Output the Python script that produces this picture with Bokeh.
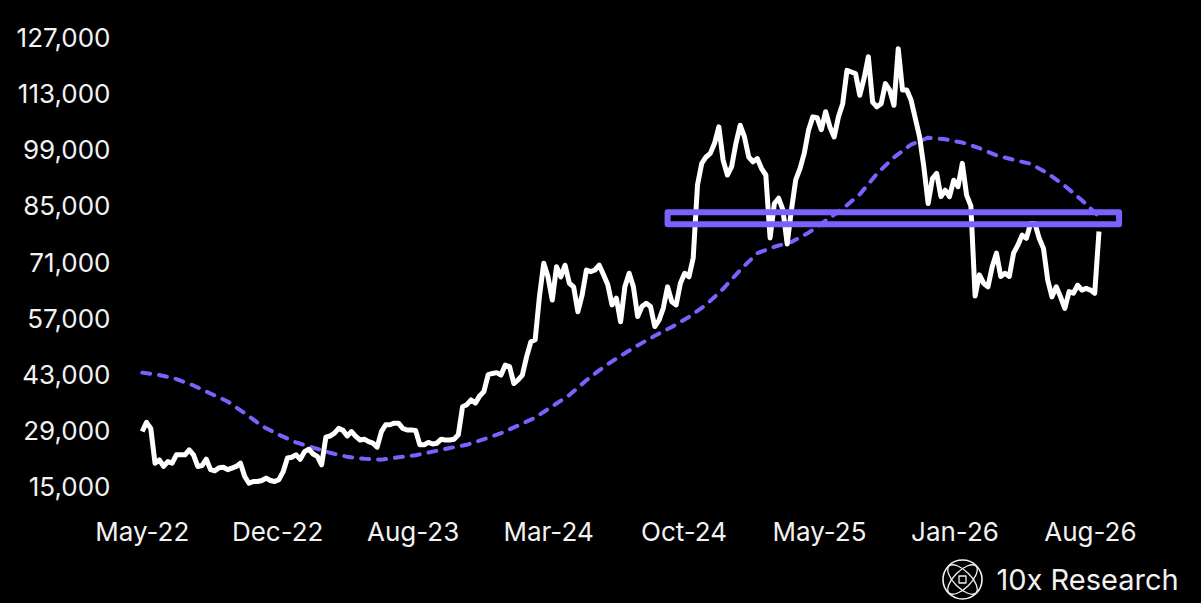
import pandas as pd
from bokeh.plotting import figure
from bokeh.models import Range1d, FixedTicker, NumeralTickFormatter, DatetimeTickFormatter, ColumnDataSource
from bokeh.layouts import column
from bokeh.embed import file_html
from bokeh.resources import INLINE
from bokeh.core.properties import value

# ---------------- data ----------------
start_date = "2022-05-15"

# weekly closes, thousands of USD
price_thousands = [
    28.7, 31.0, 29.5, 20.8, 21.65, 20.0, 21.2, 20.8, 22.9, 22.9,
    22.9, 24.15, 22.9, 20.0, 20.2, 21.8, 19.2, 18.9, 19.7, 19.8,
    19.2, 19.6, 20.0, 20.8, 17.5, 15.8, 16.25, 16.25, 16.5, 17.1,
    16.5, 16.25, 16.7, 18.7, 22.1, 22.3, 22.9, 21.8, 23.7, 24.3,
    23.1, 22.5, 20.4, 27.3, 27.6, 28.3, 29.5, 29.0, 27.6, 28.7,
    27.5, 26.6, 26.8, 26.2, 25.8, 24.8, 28.7, 30.4, 30.4, 30.8,
    30.8, 29.5, 29.1, 29.1, 29.0, 25.4, 25.4, 26.0, 25.6, 25.8,
    26.8, 26.6, 26.6, 26.8, 27.9, 34.9, 35.4, 36.6, 35.8, 37.6,
    38.7, 42.9, 43.2, 43.4, 42.8, 45.3, 44.9, 40.7, 41.6, 42.8,
    47.4, 51.1, 51.6, 62.4, 70.7, 67.3, 61.5, 69.8, 67.3, 70.2,
    65.7, 64.8, 58.6, 62.8, 69.0, 68.6, 69.0, 70.2, 67.8, 65.3,
    60.3, 62.0, 56.1, 64.8, 68.2, 64.8, 57.4, 59.9, 60.7, 59.9,
    54.9, 56.5, 59.5, 64.8, 61.1, 60.3, 65.7, 68.2, 67.3, 72.0,
    90.2, 95.6, 97.2, 98.1, 100.6, 104.7, 96.4, 92.7, 94.8, 100.6,
    105.1, 102.2, 97.2, 96.0, 96.8, 94.3, 92.7, 77.0, 85.6, 86.9,
    84.0, 75.5, 84.0, 91.5, 94.3, 98.1, 103.9, 107.2, 107.0, 104.0,
    108.5, 104.7, 102.2, 107.2, 110.5, 118.8, 118.4, 118.0, 112.6, 116.8,
    122.2, 110.9, 109.7, 110.5, 115.5, 113.9, 110.1, 124.2, 113.9, 113.9,
    111.4, 106.8, 102.2, 94.7, 85.6, 91.8, 93.1, 87.3, 88.9, 87.3,
    91.4, 89.8, 95.6, 87.7, 85.0, 62.5, 67.8, 65.7, 64.8, 69.8,
    73.2, 67.4, 68.2, 67.4, 73.2, 75.2, 77.7, 76.9, 80.6, 80.6,
    76.9, 74.4, 66.5, 62.3, 64.8, 62.3, 59.4, 63.6, 63.2, 65.2,
    64.0, 64.4, 64.0, 63.2, 78.6,
]

# moving average, every 28 days, thousands of USD
ma_thousands = [
    43.4, 42.8, 41.8, 40.2, 38.2, 36.2, 33.3, 30.1, 27.9, 26.0,
    24.7, 23.4, 22.4, 21.9, 21.7, 22.3, 22.8, 23.7, 24.6, 25.4,
    26.8, 28.3, 30.2, 32.2, 35.0, 37.8, 41.5, 44.8, 47.6, 50.2,
    52.6, 54.8, 57.3, 60.3, 64.3, 69.0, 73.2, 74.8, 76.0, 78.3,
    81.3, 84.3, 87.9, 93.0, 97.1, 100.3, 102.0, 101.6, 100.8, 99.4,
    97.6, 96.5, 95.5, 93.1, 90.0, 86.4, 82.3,
]

zone_start = "2024-09-22"
zone_end = "2026-10-02"
zone_low = 80400
zone_high = 83400

y_ticks = [15000, 29000, 43000, 57000, 71000, 85000, 99000, 113000, 127000]
x_tick_dates = ["2022-05-15", "2022-12-23", "2023-08-02", "2024-03-11",
                "2024-10-19", "2025-05-29", "2026-01-06", "2026-08-16"]

brand_text = "10x Research"

# ---------------- build ----------------
price_dates = pd.date_range(start_date, periods=len(price_thousands), freq="7D")
ma_dates = pd.date_range(start_date, periods=len(ma_thousands), freq="28D")
price_src = ColumnDataSource(dict(x=price_dates, y=[v * 1000 for v in price_thousands]))
ma_src = ColumnDataSource(dict(x=ma_dates, y=[v * 1000 for v in ma_thousands]))
zone_src = ColumnDataSource(dict(left=[pd.Timestamp(zone_start)], right=[pd.Timestamp(zone_end)],
                                 bottom=[zone_low], top=[zone_high]))

PURPLE = "#7B61FF"
TXT = "#F2F2F2"
FONT = "Inter"

t0 = pd.Timestamp(start_date)
x_start = (t0 - pd.Timedelta(days=35.6)).to_pydatetime()
x_end = (t0 + pd.Timedelta(days=1722.9)).to_pydatetime()

p = figure(x_axis_type="datetime", frame_width=1073, frame_height=457,
           min_border_left=120, min_border_right=0, min_border_top=33, min_border_bottom=60,
           x_range=Range1d(x_start, x_end), y_range=Range1d(14000, 128000),
           output_backend="svg", toolbar_location=None,
           background_fill_color="black", border_fill_color="black")
p.outline_line_color = None
p.grid.visible = False

p.line("x", "y", source=ma_src, line_color=PURPLE, line_width=4, line_dash="8 9", line_cap="round")
p.line("x", "y", source=price_src, line_color="white", line_width=5, line_join="round")
p.quad(left="left", right="right", bottom="bottom", top="top", source=zone_src,
       fill_alpha=0, line_color=PURPLE, line_width=6, line_join="round")

for ax in (p.xaxis[0], p.yaxis[0]):
    ax.axis_line_color = None
    ax.major_tick_line_color = None
    ax.minor_tick_line_color = None
    ax.major_label_text_font = FONT
    ax.major_label_text_font_size = "26px"
    ax.major_label_text_color = TXT

p.yaxis[0].ticker = FixedTicker(ticks=y_ticks)
p.yaxis[0].formatter = NumeralTickFormatter(format="0,0")
p.yaxis[0].major_label_standoff = 4

p.xaxis[0].ticker = FixedTicker(ticks=[pd.Timestamp(d).value / 1e6 for d in x_tick_dates])
fmt = "%b-%y"
p.xaxis[0].formatter = DatetimeTickFormatter(milliseconds=fmt, seconds=fmt, minsec=fmt, minutes=fmt,
                                             hourmin=fmt, hours=fmt, days=fmt, months=fmt, years=fmt)
p.xaxis[0].major_label_standoff = 19

# brand footer (its ranges equal page pixels; frame aligned with the chart frame)
w = figure(width=1193, height=50, x_range=Range1d(120, 1193), y_range=Range1d(600, 550),
           x_axis_type=None, y_axis_type=None,
           min_border_left=120, min_border_right=0, min_border_top=0, min_border_bottom=0,
           output_backend="svg", toolbar_location=None,
           background_fill_color="black", border_fill_color="black")
w.outline_line_color = None
w.grid.visible = False
w.circle(x=[962], y=[579], radius=19.5, fill_alpha=0, line_color=TXT, line_width=1.6)
w.ellipse(x=[962, 962], y=[579, 579], width=38, height=17, angle=[0.785, -0.785],
          fill_alpha=0, line_color=TXT, line_width=1.3)
w.rect(x=[962], y=[579], width=7, height=7, fill_alpha=0, line_color=TXT, line_width=1.3)
w.text(x=[996], y=[579], text=[brand_text], text_font=value(FONT), text_font_size="29px",
       text_color=TXT, text_baseline="middle", text_align="left")

layout = column(p, w)
html = file_html(layout, INLINE, title="chart")
html = html.replace("</head>", "<style>html,body{background:#000;}</style></head>", 1)
open("out.html", "w").write(html)
